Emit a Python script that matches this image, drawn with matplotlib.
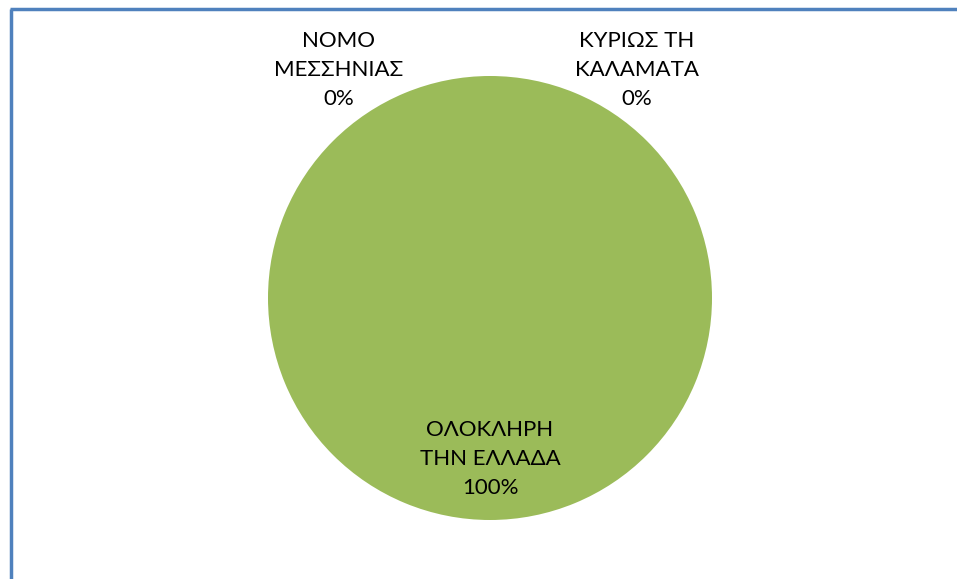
import matplotlib.pyplot as plt
from matplotlib.lines import Line2D

# Pie data
categories = ['ΝΟΜΟ\nΜΕΣΣΗΝΙΑΣ', 'ΚΥΡΙΩΣ ΤΗ\nΚΑΛΑΜΑΤΑ', 'ΟΛΟΚΛΗΡΗ\nΤΗΝ ΕΛΛΑΔΑ']
values = [0, 0, 100]
colors = ['#4F81BD', '#C0504D', '#9BBB59']

W, H = 957, 579
fig = plt.figure(figsize=(W / 100, H / 100), dpi=100)
ax = fig.add_axes([0, 0, 1, 1])

ax.pie(values, colors=colors, startangle=90, counterclock=False,
       center=(490, H - 298), radius=222, wedgeprops=dict(linewidth=0))

# pie() resets the limits, so pin the axes to pixel units afterwards
ax.set_xlim(0, W)
ax.set_ylim(0, H)
ax.set_aspect('equal')
ax.axis('off')

# Data labels (name + percent)
total = sum(values)
label_pos = [(339, H - 70), (637, H - 70), (490, H - 459)]
for name, v, (x, y) in zip(categories, values, label_pos):
    ax.text(x, y, f'{name}\n{v / total:.0%}', ha='center', va='center',
            fontsize=16, family='Lato', linespacing=1.55, color='#000000')

# Chart border (only left and top edges fall inside the image)
fig.add_artist(Line2D([11 / W, 11 / W], [0, 1 - 9 / H], transform=fig.transFigure,
                      color='#4F81BD', linewidth=2.5, solid_capstyle='butt'))
fig.add_artist(Line2D([10 / W, 1], [1 - 9 / H, 1 - 9 / H], transform=fig.transFigure,
                      color='#4F81BD', linewidth=2.5, solid_capstyle='butt'))

fig.savefig('out.png', dpi=100)
